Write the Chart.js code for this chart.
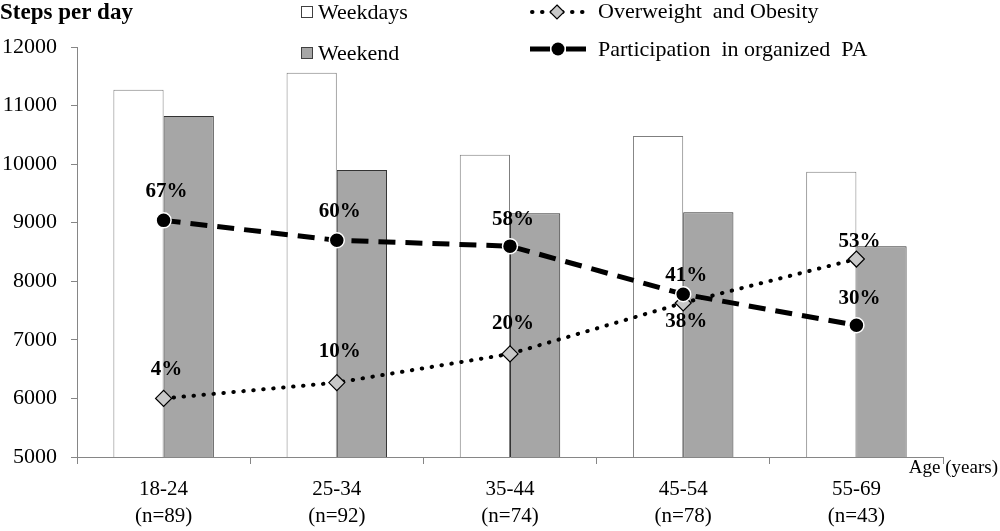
<!DOCTYPE html>
<html>
<head>
<meta charset="utf-8">
<script src="https://cdn.jsdelivr.net/npm/chart.js@4/dist/chart.umd.min.js"></script>
<style>
  html, body { margin: 0; padding: 0; background: #fff; }
  #wrap { width: 1000px; height: 531px; }
</style>
</head>
<body>
<div id="wrap"><canvas id="stepsChart" width="1000" height="531"></canvas></div>
<script>
//---------------------------------------------
// DATA
//---------------------------------------------
const ageGroups = [["18-24", "(n=89)"], ["25-34", "(n=92)"], ["35-44", "(n=74)"], ["45-54", "(n=78)"], ["55-69", "(n=43)"]];
const weekdaySteps = [11270, 11560, 10160, 10480, 9870];
const weekendSteps = [10820, 9900, 9160, 9180, 8600];
const overweightY = [6000, 6270, 6760, 7630, 8380];
const overweightPct = ["4%", "10%", "20%", "38%", "53%"];
const organizedY = [9040, 8700, 8600, 7780, 7250];
const organizedPct = ["67%", "60%", "58%", "41%", "30%"];
const yTicks = [5000, 6000, 7000, 8000, 9000, 10000, 11000, 12000];

const SERIF = "'Liberation Serif', 'DejaVu Serif', serif";

//---------------------------------------------
// EXTRA TEXT: title, legend, axis name, % labels
//---------------------------------------------
const extras = {
    id: "extras",
    afterDatasetsDraw(chart) {
        const ctx = chart.ctx;
        ctx.save();
        ctx.fillStyle = "#000";
        ctx.textBaseline = "middle";

        // title
        ctx.font = "bold 23px " + SERIF;
        ctx.textAlign = "left";
        ctx.fillText("Steps per day", 0, 13);

        // axis name
        ctx.font = "19px " + SERIF;
        ctx.textAlign = "right";
        ctx.fillText("Age (years)", 998, 468);

        // legend - bars
        ctx.font = "22px " + SERIF;
        ctx.textAlign = "left";
        ctx.lineWidth = 1;
        ctx.strokeStyle = "#404040";
        ctx.fillStyle = "#fff";
        ctx.fillRect(301.5, 6.5, 11, 11);
        ctx.strokeRect(301.5, 6.5, 11, 11);
        ctx.fillStyle = "#a6a6a6";
        ctx.fillRect(301.5, 47.5, 11, 11);
        ctx.strokeRect(301.5, 47.5, 11, 11);
        ctx.fillStyle = "#000";
        ctx.fillText("Weekdays", 318, 13);
        ctx.fillText("Weekend", 318, 54);

        // legend - lines
        ctx.strokeStyle = "#000";
        ctx.lineWidth = 4;
        ctx.lineCap = "round";
        ctx.setLineDash([0.5, 9.5]);
        ctx.beginPath(); ctx.moveTo(532, 12); ctx.lineTo(584, 12); ctx.stroke();
        ctx.lineCap = "butt";
        ctx.lineWidth = 5;
        ctx.setLineDash([]);
        ctx.beginPath(); ctx.moveTo(530, 49); ctx.lineTo(550, 49); ctx.moveTo(566, 49); ctx.lineTo(586, 49); ctx.stroke();
        ctx.lineWidth = 1.2;
        ctx.fillStyle = "#c8c8c8";
        ctx.beginPath();
        ctx.moveTo(557, 5); ctx.lineTo(564, 12); ctx.lineTo(557, 19); ctx.lineTo(550, 12); ctx.closePath();
        ctx.fill(); ctx.stroke();
        ctx.fillStyle = "#000";
        ctx.beginPath(); ctx.arc(558, 49, 6.5, 0, Math.PI * 2); ctx.fill();
        ctx.fillText("Overweight  and Obesity", 598, 12);
        ctx.fillText("Participation  in organized  PA", 598, 50);

        // percentage labels
        ctx.font = "bold 21px " + SERIF;
        ctx.textAlign = "center";
        const drawLabels = (dsIndex, labels, offsets) => {
            const meta = chart.getDatasetMeta(dsIndex);
            meta.data.forEach((pt, i) => {
                ctx.fillText(labels[i], pt.x + 3, pt.y + offsets[i]);
            });
        };
        drawLabels(2, overweightPct, [-29, -31, -30, 19, -17]);
        drawLabels(3, organizedPct, [-29, -29, -27, -19, -27]);
        ctx.restore();
    }
};

//---------------------------------------------
// CHART
//---------------------------------------------
function renderChart() {
    const ctx = document.getElementById("stepsChart").getContext("2d");

    new Chart(ctx, {
        type: "bar",
        data: {
            labels: ageGroups,
            datasets: [
                { label: "Weekdays", data: weekdaySteps, backgroundColor: "#ffffff", borderColor: "#7f7f7f", borderWidth: 1, order: 2 },
                { label: "Weekend", data: weekendSteps, backgroundColor: "#a6a6a6", borderColor: "#333333", borderWidth: 1, order: 2 },
                {
                    type: "line", label: "Overweight and Obesity", data: overweightY, order: 1,
                    borderColor: "#000", borderWidth: 4, borderDash: [0.5, 9.5], borderCapStyle: "round",
                    pointStyle: "rectRot", pointRadius: 8, pointBackgroundColor: "#c8c8c8",
                    pointBorderColor: "#000", pointBorderWidth: 1.2, tension: 0, fill: false
                },
                {
                    type: "line", label: "Participation in organized PA", data: organizedY, order: 0,
                    borderColor: "#000", borderWidth: 5, borderDash: [17, 10],
                    pointStyle: "circle", pointRadius: 7.5, pointBackgroundColor: "#000",
                    pointBorderColor: "#fff", pointBorderWidth: 1.5, tension: 0, fill: false
                }
            ]
        },
        options: {
            responsive: false,
            animation: false,
            devicePixelRatio: 1,
            layout: { padding: { top: 47, right: 57, left: 0, bottom: 0 } },
            datasets: { bar: { categoryPercentage: 0.58, barPercentage: 1.0 } },
            plugins: { legend: { display: false }, tooltip: { enabled: false } },
            scales: {
                x: {
                    afterFit: s => { s.height = 74; },
                    grid: { display: true, drawOnChartArea: false, offset: true, tickLength: 7, color: "#868686" },
                    border: { color: "#868686", width: 1 },
                    ticks: { color: "#000", font: { family: SERIF, size: 21, lineHeight: 1.3 }, padding: 12, maxRotation: 0 }
                },
                y: {
                    min: 5000, max: 12000,
                    afterFit: s => { s.width = 77; },
                    afterBuildTicks: s => { s.ticks = yTicks.map(v => ({ value: v })); },
                    grid: { display: true, drawOnChartArea: false, tickLength: 6, color: "#868686" },
                    border: { color: "#868686", width: 1 },
                    ticks: { color: "#000", font: { family: SERIF, size: 22 }, padding: 14, callback: v => String(v) }
                }
            }
        },
        plugins: [extras]
    });
}

document.addEventListener("DOMContentLoaded", () => {
    renderChart();
});
</script>
</body>
</html>
